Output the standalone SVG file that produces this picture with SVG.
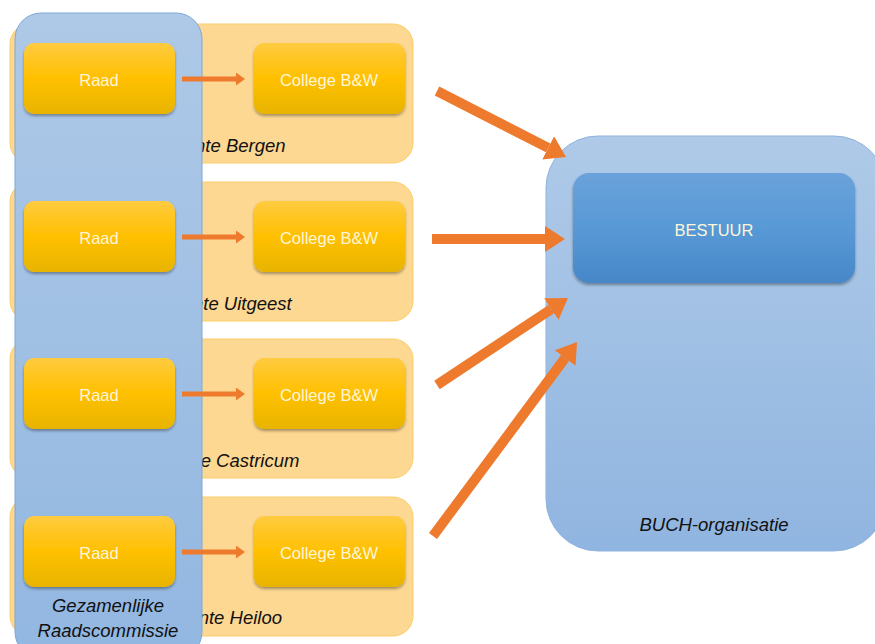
<svg xmlns="http://www.w3.org/2000/svg" width="875" height="644" viewBox="0 0 875 644">
<defs>
<linearGradient id="gOr" x1="0" y1="0" x2="0" y2="1">
<stop offset="0" stop-color="#ffcb40"/><stop offset="0.5" stop-color="#ffc000"/><stop offset="1" stop-color="#e8b400"/>
</linearGradient>
<linearGradient id="gPanel" x1="0" y1="0" x2="0" y2="1">
<stop offset="0" stop-color="#aec9e7"/><stop offset="1" stop-color="#92b7e1"/>
</linearGradient>
<linearGradient id="gBuch" x1="0" y1="0" x2="0" y2="1">
<stop offset="0" stop-color="#afcae8"/><stop offset="1" stop-color="#90b5e0"/>
</linearGradient>
<linearGradient id="gBest" x1="0" y1="0" x2="0" y2="1">
<stop offset="0" stop-color="#6aa2da"/><stop offset="0.5" stop-color="#5899d6"/><stop offset="1" stop-color="#4787c8"/>
</linearGradient>
<clipPath id="rightOfPanel"><rect x="202" y="0" width="220" height="644"/></clipPath>
<filter id="sh" x="-10%" y="-10%" width="120%" height="130%">
<feDropShadow dx="0" dy="2" stdDeviation="1.8" flood-color="#000" flood-opacity="0.35"/>
</filter>
<marker id="bigHead" markerUnits="userSpaceOnUse" viewBox="0 0 20 26" markerWidth="20" markerHeight="26" refX="0" refY="13" orient="auto">
<path d="M0,0 L20,13 L0,26 Z" fill="#ee7a2e"/>
</marker>
<marker id="smHead" markerUnits="userSpaceOnUse" viewBox="0 0 9 13" markerWidth="9" markerHeight="13" refX="0" refY="6.5" orient="auto">
<path d="M0,0 L9,6.5 L0,13 Z" fill="#ee7a2e"/>
</marker>
<style>
.grp{fill:#fdd892;stroke:#fccd68;stroke-width:1}
.box{fill:url(#gOr);filter:url(#sh)}
.btxt{font-family:"Liberation Sans",Arial,sans-serif;font-size:16.5px;fill:#fff6d8;text-anchor:middle}
.lbl{font-family:"Liberation Sans",Arial,sans-serif;font-style:italic;font-size:18.5px;fill:#111;text-anchor:middle}
.clip{clip-path:url(#rightOfPanel)}
.big{stroke:#ee7a2e;stroke-width:10;fill:none;marker-end:url(#bigHead)}
.sm{stroke:#ee7a2e;stroke-width:5;fill:none;marker-end:url(#smHead)}
</style>
</defs>
<rect width="875" height="644" fill="#fff"/>

<g id="gemeente-bergen">
<rect class="grp" x="10" y="24" width="403" height="139" rx="20"/>
<text class="lbl clip" x="210" y="152">Gemeente Bergen</text>
</g>
<g id="gemeente-uitgeest">
<rect class="grp" x="10" y="182" width="403" height="139" rx="20"/>
<text class="lbl clip" x="212" y="310">Gemeente Uitgeest</text>
</g>
<g id="gemeente-castricum">
<rect class="grp" x="10" y="339" width="403" height="139" rx="20"/>
<text class="lbl clip" x="212" y="467">Gemeente Castricum</text>
</g>
<g id="gemeente-heiloo">
<rect class="grp" x="10" y="497" width="403" height="139" rx="20"/>
<text class="lbl clip" x="210" y="624">Gemeente Heiloo</text>
</g>

<g id="gezamenlijke-raadscommissie">
<rect x="15" y="13" width="187" height="645" rx="26" fill="url(#gPanel)" stroke="#7fa7d6" stroke-width="1"/>
<text class="lbl" x="108" y="612" font-size="19">Gezamenlijke</text>
<text class="lbl" x="108" y="637" font-size="19">Raadscommissie</text>
</g>

<g id="raad-bergen"><rect class="box" x="24" y="43" width="151" height="71" rx="10"/><text class="btxt" x="99" y="86">Raad</text></g>
<g id="college-bergen"><rect class="box" x="254" y="43" width="151" height="71" rx="10"/><text class="btxt" x="329" y="86">College B&amp;W</text></g>
<g id="raad-uitgeest"><rect class="box" x="24" y="201" width="151" height="71" rx="10"/><text class="btxt" x="99" y="244">Raad</text></g>
<g id="college-uitgeest"><rect class="box" x="254" y="201" width="151" height="71" rx="10"/><text class="btxt" x="329" y="244">College B&amp;W</text></g>
<g id="raad-castricum"><rect class="box" x="24" y="358" width="151" height="71" rx="10"/><text class="btxt" x="99" y="401">Raad</text></g>
<g id="college-castricum"><rect class="box" x="254" y="358" width="151" height="71" rx="10"/><text class="btxt" x="329" y="401">College B&amp;W</text></g>
<g id="raad-heiloo"><rect class="box" x="24" y="516" width="151" height="71" rx="10"/><text class="btxt" x="99" y="559">Raad</text></g>
<g id="college-heiloo"><rect class="box" x="254" y="516" width="151" height="71" rx="10"/><text class="btxt" x="329" y="559">College B&amp;W</text></g>

<g id="buch-organisatie">
<rect x="546" y="136" width="340" height="415" rx="52" fill="url(#gBuch)" stroke="#8fb3de" stroke-width="1"/>
<text class="lbl" x="714" y="531" font-size="17.5">BUCH-organisatie</text>
</g>
<g id="bestuur">
<rect x="573" y="173" width="282" height="110" rx="16" fill="url(#gBest)" filter="url(#sh)"/>
<text class="btxt" x="714" y="236" font-size="17" fill="#eef5fc">BESTUUR</text>
</g>

<g id="connectors">
<line class="sm" x1="182" y1="79" x2="236" y2="79"/>
<line class="sm" x1="182" y1="237" x2="236" y2="237"/>
<line class="sm" x1="182" y1="394" x2="236" y2="394"/>
<line class="sm" x1="182" y1="552" x2="236" y2="552"/>
<line class="big" x1="437" y1="91" x2="548.2" y2="147.9"/>
<line class="big" x1="432" y1="239" x2="545" y2="239"/>
<line class="big" x1="437" y1="385" x2="551.3" y2="309.1"/>
<line class="big" x1="433" y1="536" x2="565.1" y2="358.1"/>
</g>
</svg>
